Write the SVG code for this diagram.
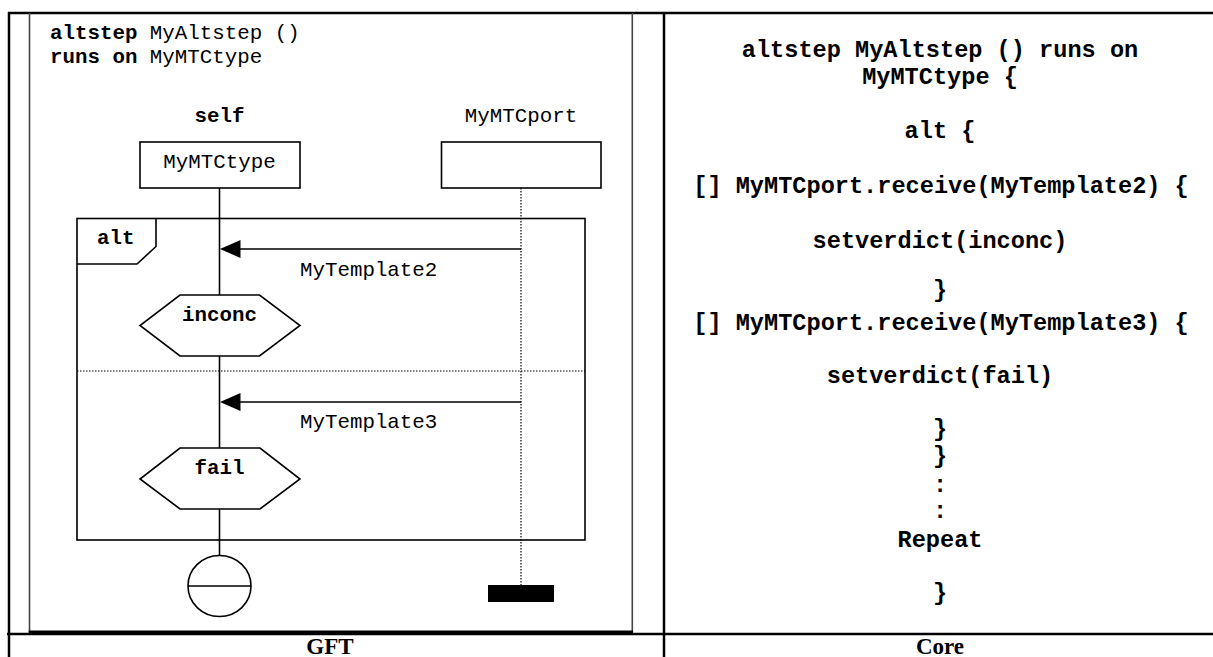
<svg xmlns="http://www.w3.org/2000/svg" width="1213" height="657" viewBox="0 0 1213 657">
<defs>
<style>
.mono{font-family:"Liberation Mono","Courier New",monospace;font-size:20.8px;fill:#000}
.b{font-weight:bold}
.core{font-family:"Liberation Mono","Courier New",monospace;font-size:23.6px;font-weight:bold;fill:#000;text-anchor:middle}
.hdr{font-family:"Liberation Serif","Times New Roman",serif;font-size:23px;font-weight:bold;fill:#000;text-anchor:middle}
.ln{stroke:#000;stroke-width:1.6;fill:none}
.shape{stroke:#000;stroke-width:1.6;fill:#fff}
.dot{stroke:#000;stroke-width:1.2;stroke-dasharray:1.5 1.5;fill:none}
.mid{text-anchor:middle}
</style>
</defs>
<rect x="0" y="0" width="1213" height="657" fill="#fff"/>

<g id="table">
<line x1="8" y1="13" x2="1213" y2="13" stroke="#000" stroke-width="2.5"/>
<line x1="9" y1="12" x2="9" y2="657" stroke="#000" stroke-width="2.5"/>
<line x1="664" y1="12" x2="664" y2="657" stroke="#000" stroke-width="2.5"/>
<line x1="7" y1="634" x2="1213" y2="634" stroke="#000" stroke-width="2.5"/>
<text class="hdr" x="330" y="653.5">GFT</text>
<text class="hdr" x="940" y="653.5">Core</text>
</g>

<g id="frame">
<line x1="29.5" y1="13" x2="29.5" y2="632" stroke="#444" stroke-width="1.6"/>
<line x1="632.3" y1="13" x2="632.3" y2="632" stroke="#444" stroke-width="1.6"/>
<line x1="28.7" y1="632" x2="633" y2="632" stroke="#000" stroke-width="3"/>
<text class="mono" x="50" y="39"><tspan class="b">altstep</tspan> MyAltstep ()</text>
<text class="mono" x="50" y="63"><tspan class="b">runs on</tspan> MyMTCtype</text>
</g>

<g id="connectors">
<line class="ln" x1="219.5" y1="188" x2="219.5" y2="295"/>
<line class="ln" x1="219.5" y1="356" x2="219.5" y2="448"/>
<line class="ln" x1="219.5" y1="509" x2="219.5" y2="555.5"/>
<line class="dot" x1="521" y1="188" x2="521" y2="585"/>
<line class="ln" x1="521" y1="249" x2="238" y2="249"/>
<polygon points="220,249 240.5,240 240.5,258" fill="#000"/>
<line class="ln" x1="521" y1="402" x2="238" y2="402"/>
<polygon points="220,402 240.5,393 240.5,411" fill="#000"/>
</g>

<g id="alt">
<rect class="ln" x="77" y="218.5" width="508" height="321.5"/>
<polyline class="ln" points="77,264 137,264 156,246.5 156,218.5"/>
<text class="mono b" x="97" y="244">alt</text>
<line class="dot" x1="77" y1="371" x2="585" y2="371"/>
</g>

<g id="self">
<text class="mono b mid" x="219.5" y="122">self</text>
<rect class="shape" x="140" y="142" width="160" height="46"/>
<text class="mono mid" x="219.5" y="168">MyMTCtype</text>
</g>

<g id="port">
<text class="mono mid" x="521" y="122">MyMTCport</text>
<rect class="shape" x="441.5" y="142" width="159.5" height="46"/>
</g>

<g id="msg1"><text class="mono" x="300" y="276">MyTemplate2</text></g>
<g id="msg2"><text class="mono" x="300" y="428">MyTemplate3</text></g>

<g id="inconc">
<polygon class="shape" points="180,295 259.5,295 300,325.5 259.5,356 180,356 140,325.5"/>
<text class="mono b mid" x="219.5" y="321">inconc</text>
</g>

<g id="fail">
<polygon class="shape" points="180,448 260,448 300,479 260,509 180,509 140,479"/>
<text class="mono b mid" x="219.5" y="474">fail</text>
</g>

<g id="repeat">
<ellipse class="shape" cx="219.5" cy="586" rx="31.5" ry="30.5"/>
<line class="ln" x1="188" y1="586" x2="251" y2="586"/>
</g>

<g id="portstop">
<rect x="488" y="585" width="66" height="17" fill="#000"/>
</g>

<g id="core">
<text class="core" x="940" y="57">altstep MyAltstep () runs on</text>
<text class="core" x="940" y="84">MyMTCtype {</text>
<text class="core" x="940" y="138">alt {</text>
<text class="core" x="941" y="193">[] MyMTCport.receive(MyTemplate2) {</text>
<text class="core" x="940" y="248">setverdict(inconc)</text>
<text class="core" x="940" y="297">}</text>
<text class="core" x="941" y="330">[] MyMTCport.receive(MyTemplate3) {</text>
<text class="core" x="940" y="383">setverdict(fail)</text>
<text class="core" x="940" y="436">}</text>
<text class="core" x="940" y="463">}</text>
<text class="core" x="940" y="492">:</text>
<text class="core" x="940" y="518">:</text>
<text class="core" x="940" y="547">Repeat</text>
<text class="core" x="940" y="600">}</text>
</g>
</svg>
